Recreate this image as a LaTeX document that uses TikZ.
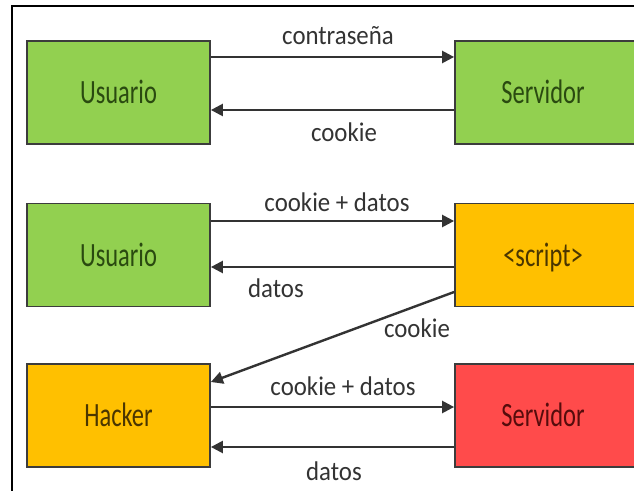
\documentclass[tikz,border=0pt]{standalone}
\usepackage{fontspec}
\setmainfont{Carlito}
\usetikzlibrary{arrows.meta}
\definecolor{gfill}{HTML}{92D050}
\definecolor{ofill}{HTML}{FFC000}
\definecolor{rfill}{HTML}{FF4B4B}
\definecolor{edge}{HTML}{3C3C3C}
\definecolor{gtext}{HTML}{2A4A10}
\definecolor{otext}{HTML}{4A3600}
\definecolor{rtext}{HTML}{560C0C}
\definecolor{ltext}{HTML}{333333}
\newcommand\boxtxt[1]{\scalebox{0.72}[1]{#1}}
\newcommand\lbltxt[1]{\scalebox{0.92}[1]{#1}}
\tikzset{
  blk/.style={draw=edge, line width=1.8bp, minimum width=183bp, minimum height=103bp,
    inner sep=0pt, text height=22bp, text depth=0pt,
    font=\fontsize{34bp}{34bp}\selectfont},
  wide/.style={minimum width=260bp},
  gblk/.style={blk, fill=gfill, text=gtext},
  oblk/.style={blk, fill=ofill, text=otext},
  rblk/.style={blk, fill=rfill, text=rtext},
  conn/.style={draw=ltext, line width=2.4bp, -{Triangle[length=12bp,width=12bp]}},
  lbl/.style={anchor=base, inner sep=0pt, text=ltext, font=\fontsize{27bp}{27bp}\selectfont},
  frame/.style={draw=black, line width=2.4bp}
}
\begin{document}
\begin{tikzpicture}[x=1bp,y=-1bp]
\useasboundingbox (0,0) rectangle (634,491);
\fill[white] (0,0) rectangle (634,491);
\begin{scope}
\clip (0,0) rectangle (634,491);
% frame
\draw[frame] (12,495) -- (12,6) -- (640,6);
% boxes
\node[gblk] (u1) at (118.5,92.5) {\boxtxt{Usuario}};
\node[gblk,wide] (s1) at (585,92.5) {\boxtxt{Servidor}\rule{84bp}{0pt}};
\node[gblk] (u2) at (118.5,255) {\boxtxt{Usuario}};
\node[oblk,wide] (sc) at (585,255) {\boxtxt{<script>}\rule{84bp}{0pt}};
\node[oblk] (hk) at (118.5,415.5) {\boxtxt{Hacker}};
\node[rblk,wide] (s3) at (585,415.5) {\boxtxt{Servidor}\rule{84bp}{0pt}};
\end{scope}
% connectors
\draw[conn] (u1.east |- 0,57) -- (s1.west |- 0,57);
\draw[conn] (s1.west |- 0,110) -- (u1.east |- 0,110);
\draw[conn] (u2.east |- 0,221) -- (sc.west |- 0,221);
\draw[conn] (sc.west |- 0,267) -- (u2.east |- 0,267);
\draw[conn] (sc.west |- 0,292) -- (hk.east |- 0,382);
\draw[conn] (hk.east |- 0,407) -- (s3.west |- 0,407);
\draw[conn] (s3.west |- 0,447) -- (hk.east |- 0,447);
% labels
\node[lbl] (l1) at (338,45) {\lbltxt{contraseña}};
\node[lbl] (l2) at (344,142) {\lbltxt{cookie}};
\node[lbl] (l3) at (337,212) {\lbltxt{cookie + datos}};
\node[lbl] (l4) at (276,297) {\lbltxt{datos}};
\node[lbl] (l5) at (417,337) {\lbltxt{cookie}};
\node[lbl] (l6) at (343,395) {\lbltxt{cookie + datos}};
\node[lbl] (l7) at (334,480) {\lbltxt{datos}};
\end{tikzpicture}
\end{document}
